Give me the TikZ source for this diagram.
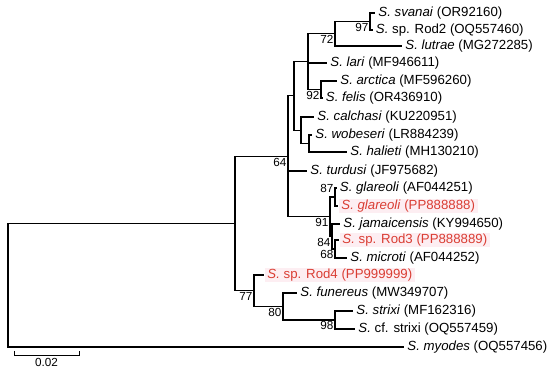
\documentclass[tikz,border=0pt]{standalone}
\usepackage{fontspec}
\setmainfont{Liberation Sans}
\usepackage{tikz}
\usetikzlibrary{positioning}
\definecolor{newred}{RGB}{218,62,52}
\definecolor{newpink}{RGB}{253,238,242}
\tikzset{
	leaftext/.style={anchor=west, inner xsep=2.5pt, inner ysep=1pt, font=\fontsize{11.3}{13}\selectfont}
}
\tikzset{
	newleaf/.style={leaftext, text=newred, fill=newpink}
}
\tikzset{
	boottext/.style={anchor=north east, inner sep=1pt, font=\fontsize{10}{11}\selectfont}
}
\newcommand{\spname}[2]{\textit{S. #1} (#2)}

\begin{document}
\begin{tikzpicture}[x=0.03cm, y=-0.03cm, line width=0.9pt]
      \useasboundingbox (0,0) rectangle (550,370);
      % leaves
      \node[leaftext] (svanai) at (375,13) {\spname{svanai}{OR92160}};
      \node[leaftext] (rod2) at (372.5,30) {\textit{S.} sp. Rod2 (OQ557460)};
      \node[leaftext] (lutrae) at (402,46) {\spname{lutrae}{MG272285}};
      \node[leaftext] (lari) at (327,63) {\spname{lari}{MF946611}};
      \node[leaftext] (arctica) at (337,81) {\spname{arctica}{MF596260}};
      \node[leaftext] (felis) at (322.5,98) {\spname{felis}{OR436910}};
      \node[leaftext] (calchasi) at (314,117) {\spname{calchasi}{KU220951}};
      \node[leaftext] (wobeseri) at (312,135) {\spname{wobeseri}{LR884239}};
      \node[leaftext] (halieti) at (347,152) {\spname{halieti}{MH130210}};
      \node[leaftext] (turdusi) at (307,171) {\spname{turdusi}{JF975682}};
      \node[leaftext] (glareoliA) at (336.5,188) {\spname{glareoli}{AF044251}};
      \node[newleaf] (glareoliP) at (338,206) {\spname{glareoli}{PP888888}};
      \node[leaftext] (jamaicensis) at (340,224) {\spname{jamaicensis}{KY994650}};
      \node[newleaf] (rod3) at (339,240) {\textit{S.} sp. Rod3 (PP888889)};
      \node[leaftext] (microti) at (347,258) {\spname{microti}{AF044252}};
      \node[newleaf] (rod4) at (264,275) {\textit{S.} sp. Rod4 (PP999999)};
      \node[leaftext] (funereus) at (297,293) {\spname{funereus}{MW349707}};
      \node[leaftext] (strixi) at (353,311) {\spname{strixi}{MF162316}};
      \node[leaftext] (cfstrixi) at (355,329) {\textit{S.} cf. strixi (OQ557459)};
      \node[leaftext] (myodes) at (404,347) {\spname{myodes}{OQ557456}};
      % inner nodes
      \coordinate (n97) at (370,21.5);
      \coordinate (n72) at (335,33.75);
      \coordinate (n92) at (321,89.5);
      \coordinate (nA) at (308,61.6);
      \coordinate (nE) at (309,143.5);
      \coordinate (nC) at (301,130.25);
      \coordinate (nD) at (294,95.9);
      \coordinate (n87) at (335,197);
      \coordinate (n68) at (335,249);
      \coordinate (n84) at (332,236.5);
      \coordinate (n91) at (330,216.75);
      \coordinate (n64) at (288,156.3);
      \coordinate (n98) at (335,320);
      \coordinate (n80) at (283,306.5);
      \coordinate (n77) at (254,290.75);
      \coordinate (nI) at (235,223.5);
      \coordinate (root) at (8,285);
      % branches
      \foreach \p/\c in {n97/svanai.west, n97/rod2.west, n72/n97, n72/lutrae.west,
          n92/arctica.west, n92/felis.west, nA/n72, nA/lari.west, nA/n92,
          nE/wobeseri.west, nE/halieti.west, nC/calchasi.west, nC/nE, nD/nA, nD/nC,
          n87/glareoliA.west, n87/glareoliP.west, n68/rod3.west, n68/microti.west,
          n84/jamaicensis.west, n84/n68, n91/n87, n91/n84,
          n64/nD, n64/turdusi.west, n64/n91,
          n98/strixi.west, n98/cfstrixi.west, n80/funereus.west, n80/n98,
          n77/rod4.west, n77/n80, nI/n64, nI/n77, root/nI, root/myodes.west}
        \draw (\p) |- (\c);
      % bootstrap values
      \foreach \n/\v in {n97/97, n72/72, n92/92, n64/64, n91/91,
          n84/84, n68/68, n77/77, n80/80, n98/98}
        \node[boottext] at (\n) {\v};
      \node[boottext, anchor=south east] at ([yshift=2pt]n87) {87};
      % scale bar
      \coordinate (bar0) at (14,355);
      \coordinate (bar1) at (79,355);
      \draw[line width=0.8pt] (bar0) ++(0,-4) -- (bar0) -- (bar1) -- ++(0,-4);
      \node[boottext, anchor=north] (barlabel) at (46.5,357) {0.02};
    \end{tikzpicture}
\end{document}
